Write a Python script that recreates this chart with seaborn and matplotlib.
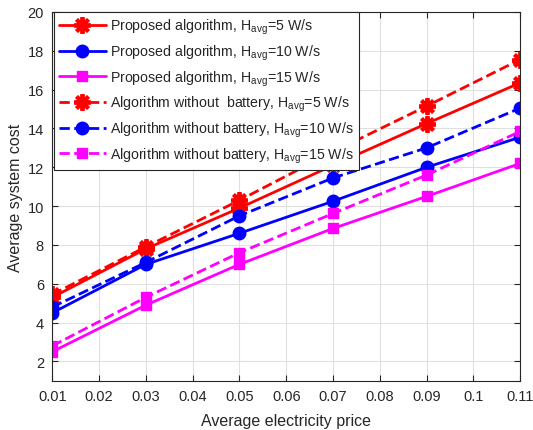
import matplotlib
matplotlib.use("Agg")
import matplotlib.pyplot as plt
import seaborn as sns
import numpy as np
import pandas as pd

price = [0.01, 0.03, 0.05, 0.07, 0.09, 0.11]
prop_h5 = [5.3, 7.8, 9.9, 12.1, 14.25, 16.35]
prop_h10 = [4.5, 7.0, 8.6, 10.25, 12.0, 13.55]
prop_h15 = [2.5, 4.9, 7.0, 8.85, 10.5, 12.2]
nobat_h5 = [5.45, 7.9, 10.3, 12.8, 15.15, 17.55]
nobat_h10 = [4.8, 7.1, 9.5, 11.45, 13.0, 15.05]
nobat_h15 = [2.8, 5.3, 7.6, 9.62, 11.6, 13.85]

labels = [
    r"Proposed algorithm, H$_{avg}$=5 W/s",
    r"Proposed algorithm, H$_{avg}$=10 W/s",
    r"Proposed algorithm, H$_{avg}$=15 W/s",
    r"Algorithm without  battery, H$_{avg}$=5 W/s",
    r"Algorithm without battery, H$_{avg}$=10 W/s",
    r"Algorithm without battery, H$_{avg}$=15 W/s",
]
xticks = [0.01, 0.02, 0.03, 0.04, 0.05, 0.06, 0.07, 0.08, 0.09, 0.1, 0.11]
xtick_labels = ["0.01", "0.02", "0.03", "0.04", "0.05", "0.06", "0.07", "0.08", "0.09", "0.1", "0.11"]
yticks = [2, 4, 6, 8, 10, 12, 14, 16, 18, 20]

sns.set_theme(style="white")
plt.rcParams["font.family"] = ["Liberation Sans", "DejaVu Sans"]
plt.rcParams["mathtext.default"] = "regular"

fig = plt.figure(figsize=(5.33, 4.31), dpi=100)
ax = fig.add_axes([0.098, 0.114, 0.878, 0.856])

series = [prop_h5, prop_h10, prop_h15, nobat_h5, nobat_h10, nobat_h15]
colors = ["#ff0000", "#0000ff", "#ff00ff"] * 2
styles = ["-"] * 3 + ["--"] * 3
asterisk = (8, 2, 0)
markers = [asterisk, "o", "s"] * 2
msizes = [12, 9, 7.5] * 2

for y, lab, c, ls, m, ms in zip(series, labels, colors, styles, markers, msizes):
    mew = 2.8 if m == asterisk else 1
    sns.lineplot(x=price, y=y, ax=ax, color=c, linestyle=ls, linewidth=2.0,
                 marker=m, markersize=ms, markeredgecolor=c, markerfacecolor=c,
                 markeredgewidth=mew, label=lab)

ax.set_xlim(0.01, 0.11)
ax.set_ylim(1, 20)
ax.set_xticks(xticks)
ax.set_xticklabels(xtick_labels)
ax.set_yticks(yticks)
ax.grid(True, color="#e0e0e0", linewidth=0.8)
ax.set_axisbelow(True)
for s in ax.spines.values():
    s.set_visible(True)
    s.set_color("#262626")
    s.set_linewidth(0.8)
ax.tick_params(direction="in", length=4, width=0.8, top=True, right=True,
               bottom=True, left=True, labelsize=10.5, colors="#262626",
               labelcolor="#262626", pad=6)
ax.set_xlabel("Average electricity price", fontsize=11.5, color="#262626", labelpad=7)
ax.set_ylabel("Average system cost", fontsize=11.5, color="#262626", labelpad=3)

leg = ax.legend(loc="upper left", bbox_to_anchor=(0.004, 1.0), fontsize=10.2,
                frameon=True, fancybox=False, edgecolor="#262626",
                handlelength=3.3, labelspacing=0.45, borderpad=0.35,
                handletextpad=0.3, borderaxespad=0.0)
leg.get_frame().set_linewidth(0.8)
leg.get_frame().set_alpha(1)

fig.savefig("out.png", dpi=100)
